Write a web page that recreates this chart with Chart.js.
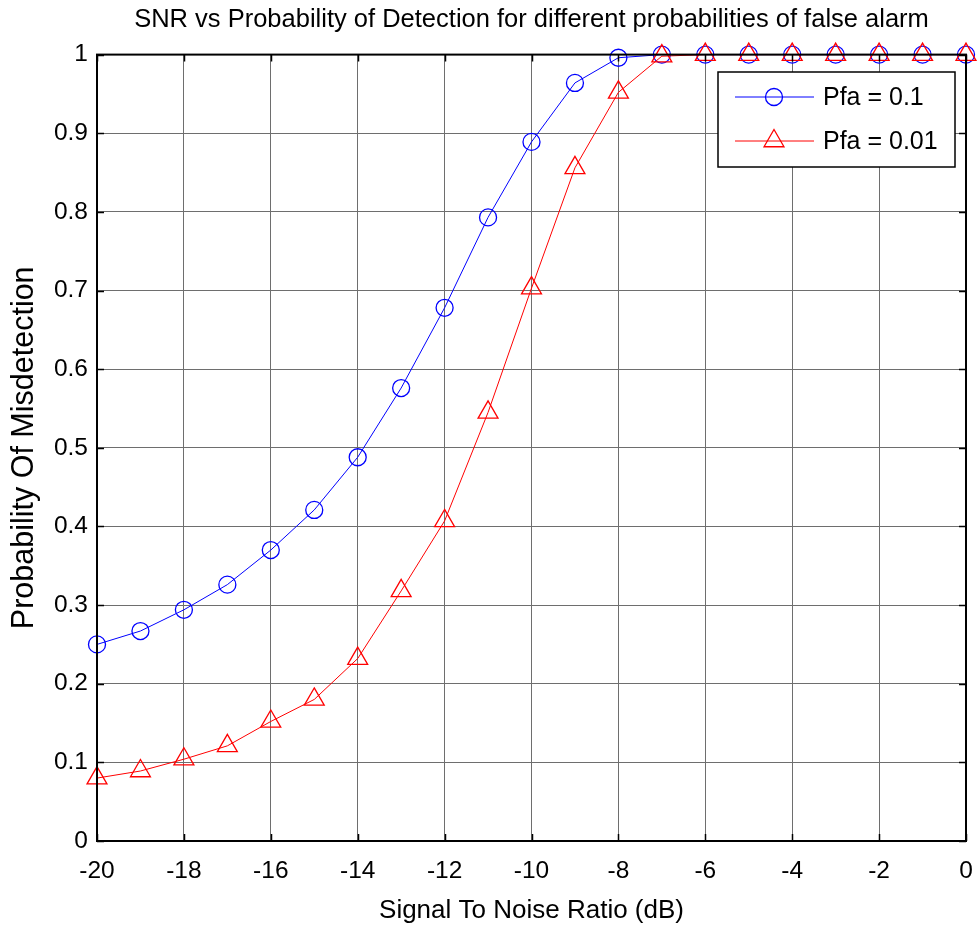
<!DOCTYPE html>
<html>
<head>
<meta charset="utf-8">
<script src="https://cdn.jsdelivr.net/npm/chart.js@4"></script>
<style>
  html, body { margin: 0; padding: 0; background: #fff; }
  #wrap { width: 979px; height: 929px; }
</style>
</head>
<body>
<div id="wrap"><canvas id="c" width="979" height="929"></canvas></div>
<script>
// ---- data ----
const snrDb = [-20, -19, -18, -17, -16, -15, -14, -13, -12, -11, -10, -9, -8, -7, -6, -5, -4, -3, -2, -1, 0];
const pdPfa01 = [0.250, 0.267, 0.294, 0.326, 0.370, 0.421, 0.488, 0.576, 0.678, 0.793, 0.889, 0.964, 0.996, 1.0, 1.0, 1.0, 1.0, 1.0, 1.0, 1.0, 1.0];
const pdPfa001 = [0.080, 0.089, 0.104, 0.121, 0.152, 0.180, 0.232, 0.318, 0.407, 0.545, 0.703, 0.856, 0.952, 0.998, 1.0, 1.0, 1.0, 1.0, 1.0, 1.0, 1.0];
const seriesLabels = ['Pfa = 0.1', 'Pfa = 0.01'];
const xTickValues = [-20, -18, -16, -14, -12, -10, -8, -6, -4, -2, 0];
const yTickValues = [0, 0.1, 0.2, 0.3, 0.4, 0.5, 0.6, 0.7, 0.8, 0.9, 1];
const yTickLabels = ['0', '0.1', '0.2', '0.3', '0.4', '0.5', '0.6', '0.7', '0.8', '0.9', '1'];
const titleText = 'SNR vs Probability of Detection for different probabilities of false alarm';
const xTitle = 'Signal To Noise Ratio (dB)';
const yTitle = 'Probability Of Misdetection';

const FONT = "'Liberation Sans', Arial, Helvetica, sans-serif";

function toPoints(xs, ys) { return xs.map((x, i) => ({ x: x, y: ys[i] })); }

// box, inward ticks and legend (MATLAB style)
const matlabDecor = {
  id: 'matlabDecor',
  afterDatasetsDraw(chart) {
    const { ctx, chartArea: a, scales } = chart;
    const xs = scales.x, ys = scales.y;
    ctx.save();
    // inward ticks
    ctx.strokeStyle = '#000';
    ctx.lineWidth = 1.5;
    const tl = 7;
    ctx.beginPath();
    xTickValues.forEach(v => {
      const px = Math.round(xs.getPixelForValue(v)) + 0.5;
      ctx.moveTo(px, a.bottom); ctx.lineTo(px, a.bottom - tl);
      ctx.moveTo(px, a.top); ctx.lineTo(px, a.top + tl);
    });
    yTickValues.forEach(v => {
      const py = Math.round(ys.getPixelForValue(v)) + 0.5;
      ctx.moveTo(a.left, py); ctx.lineTo(a.left + tl, py);
      ctx.moveTo(a.right, py); ctx.lineTo(a.right - tl, py);
    });
    ctx.stroke();
    // box
    ctx.lineWidth = 2;
    ctx.strokeRect(a.left, a.top, a.right - a.left, a.bottom - a.top);

    // legend
    const lx = 718, ly = 72, lw = 237, lh = 95;
    ctx.fillStyle = '#fff';
    ctx.fillRect(lx, ly, lw, lh);
    ctx.lineWidth = 1.5;
    ctx.strokeStyle = '#000';
    ctx.strokeRect(lx, ly, lw, lh);
    const rows = [ly + 25, ly + 69];
    chart.data.datasets.forEach((ds, i) => {
      const y = rows[i];
      ctx.strokeStyle = ds.borderColor;
      ctx.lineWidth = 1;
      ctx.beginPath();
      ctx.moveTo(735, y); ctx.lineTo(814, y);
      ctx.stroke();
      ctx.lineWidth = ds.pointBorderWidth;
      ctx.fillStyle = 'rgba(0,0,0,0)';
      ctx.strokeStyle = ds.pointBorderColor;
      Chart.helpers.drawPoint(ctx, { pointStyle: ds.pointStyle, radius: ds.pointRadius, borderWidth: ds.pointBorderWidth, rotation: 0 }, 774, y);
      ctx.fillStyle = '#000';
      ctx.font = "25px " + FONT;
      ctx.textAlign = 'left';
      ctx.textBaseline = 'middle';
      ctx.fillText(ds.label, 823, y + 1);
    });
    ctx.restore();
  }
};

new Chart(document.getElementById('c'), {
  type: 'line',
  data: {
    datasets: [
      {
        label: seriesLabels[0],
        data: toPoints(snrDb, pdPfa01),
        borderColor: '#0000ff',
        backgroundColor: 'rgba(0,0,0,0)',
        borderWidth: 1,
        pointStyle: 'circle',
        pointRadius: 8.5,
        pointBorderWidth: 1.3,
        pointBorderColor: '#0000ff',
        pointBackgroundColor: 'rgba(0,0,0,0)',
        tension: 0,
        clip: false,
        order: 1
      },
      {
        label: seriesLabels[1],
        data: toPoints(snrDb, pdPfa001),
        borderColor: '#ff0000',
        backgroundColor: 'rgba(0,0,0,0)',
        borderWidth: 1,
        pointStyle: 'triangle',
        pointRadius: 11.5,
        pointBorderWidth: 1.3,
        pointBorderColor: '#ff0000',
        pointBackgroundColor: 'rgba(0,0,0,0)',
        tension: 0,
        clip: false,
        order: 0
      }
    ]
  },
  options: {
    responsive: false,
    animation: false,
    devicePixelRatio: 1,
    layout: { padding: { left: 0, right: 13, top: 0, bottom: 0 } },
    plugins: {
      legend: { display: false },
      tooltip: { enabled: false },
      title: {
        display: true,
        text: titleText,
        fullSize: false,
        color: '#000',
        font: { family: FONT, size: 25.5, weight: 'normal' },
        padding: { top: 5, bottom: 19 }
      }
    },
    scales: {
      x: {
        type: 'linear',
        min: -20, max: 0,
        afterBuildTicks: s => { s.ticks = xTickValues.map(v => ({ value: v })); },
        afterFit: s => { s.height = 88; s.paddingRight = 0; },
        ticks: {
          color: '#000',
          font: { family: FONT, size: 24.5 },
          padding: 16,
          maxRotation: 0,
          callback: v => String(v)
        },
        grid: { color: '#6e6e6e', borderDash: [2, 2], drawTicks: false, lineWidth: 1 },
        border: { display: true, color: '#000', width: 2, dash: [] },
        title: {
          display: true, text: xTitle, color: '#000',
          font: { family: FONT, size: 26 },
          padding: { top: 0, bottom: 3 }
        }
      },
      y: {
        type: 'linear',
        min: 0, max: 1,
        afterBuildTicks: s => { s.ticks = yTickValues.map(v => ({ value: v })); },
        afterFit: s => { s.width = 97; },
        ticks: {
          color: '#000',
          font: { family: FONT, size: 24.5 },
          padding: 9,
          callback: (v, i) => yTickLabels[i]
        },
        grid: { color: '#6e6e6e', borderDash: [2, 2], drawTicks: false, lineWidth: 1 },
        border: { display: true, color: '#000', width: 2, dash: [] },
        title: {
          display: true, text: yTitle, color: '#000',
          font: { family: FONT, size: 30.5 },
          padding: { top: 6, bottom: 0 }
        }
      }
    }
  },
  plugins: [matlabDecor]
});
</script>
</body>
</html>
